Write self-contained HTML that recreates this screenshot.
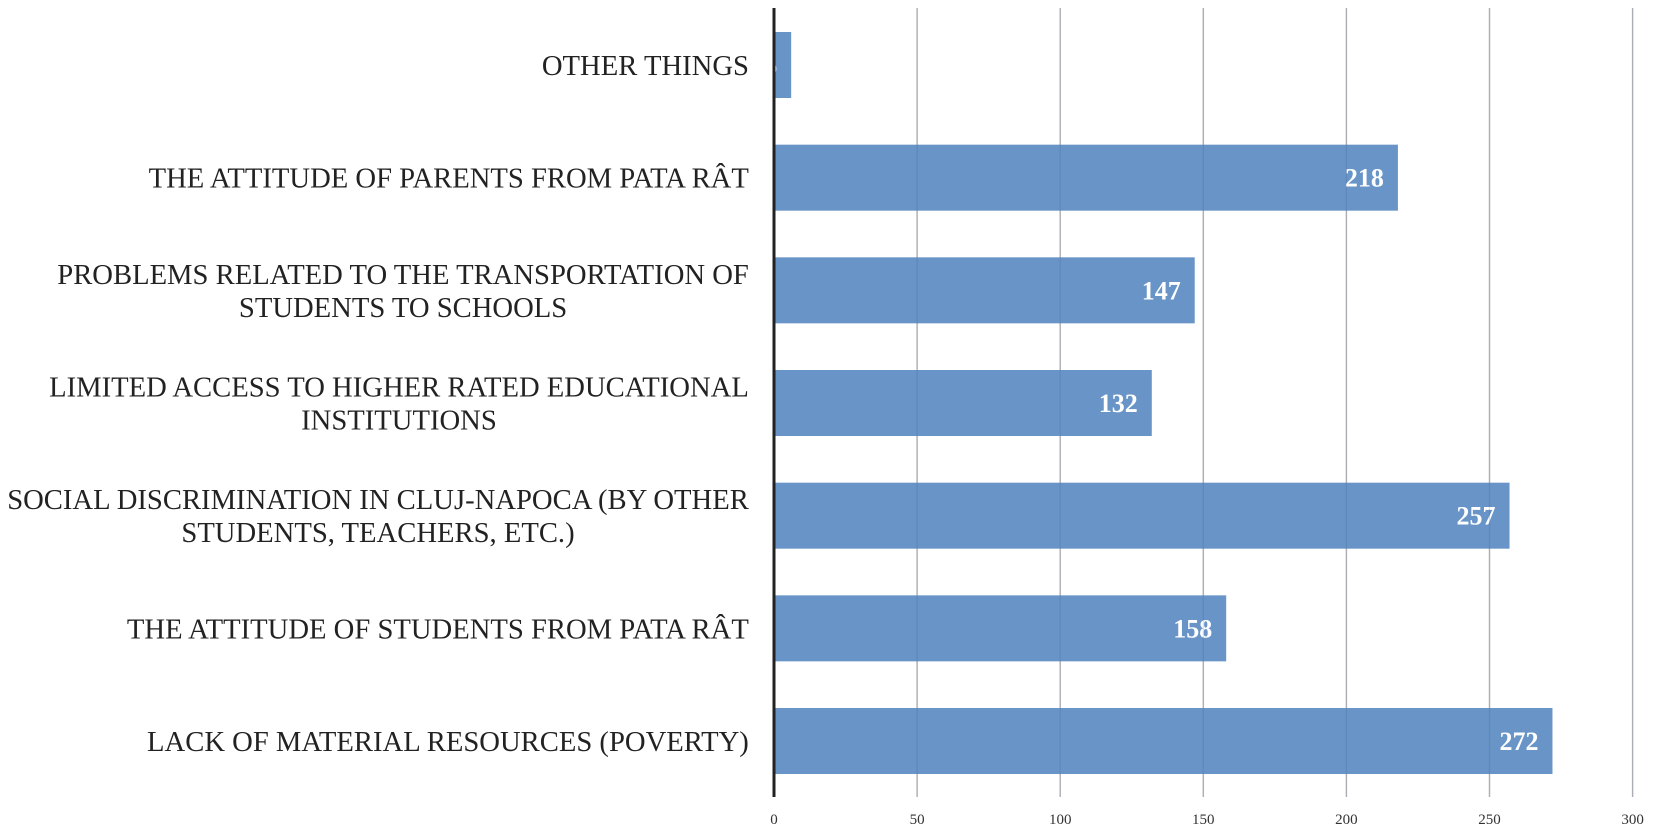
<!DOCTYPE html>
<html><head><meta charset="utf-8"><style>
html,body{margin:0;padding:0;background:#fff;}
svg{display:block;font-family:"Liberation Serif",serif;}
</style></head><body>
<svg id="chart" width="1654" height="834" viewBox="0 0 1654 834">
<g id="grid"></g>
<g id="bars"></g>
<g id="overgrid"></g>
<g id="cats"></g>
<g id="ticks"></g>
<line x1="774" y1="8" x2="774" y2="797" stroke="#222" stroke-width="3"/>
</svg>
<script>
const categories = [
 ["OTHER THINGS"],
 ["THE ATTITUDE OF PARENTS FROM PATA RÂT"],
 ["PROBLEMS RELATED TO THE TRANSPORTATION OF","STUDENTS TO SCHOOLS"],
 ["LIMITED ACCESS TO HIGHER RATED EDUCATIONAL","INSTITUTIONS"],
 ["SOCIAL DISCRIMINATION IN CLUJ-NAPOCA (BY OTHER","STUDENTS, TEACHERS, ETC.)"],
 ["THE ATTITUDE OF STUDENTS FROM PATA RÂT"],
 ["LACK OF MATERIAL RESOURCES (POVERTY)"]
];
const values = [6, 218, 147, 132, 257, 158, 272];
const tickValues = [0, 50, 100, 150, 200, 250, 300];
const tickLabels = ["0","50","100","150","200","250","300"];

const NS = "http://www.w3.org/2000/svg";
const x0 = 774, pxPerUnit = 2.862;
const xScale = v => x0 + v * pxPerUnit;
const yCenter = i => 65 + i * 112.67;
const barH = 66;

function mk(tag, attrs, parent){ const e=document.createElementNS(NS,tag); for(const k in attrs) e.setAttribute(k,attrs[k]); parent.appendChild(e); return e; }

const grid=document.getElementById('grid'), over=document.getElementById('overgrid'), ticks=document.getElementById('ticks');
tickValues.forEach((t,i)=>{
  if(t===0) return;
  const g=mk('line',{x1:xScale(t),x2:xScale(t),y1:8,y2:797,stroke:'#c4c4c4','stroke-width':1.5},grid);
  
  
  const o=mk('line',{x1:xScale(t),x2:xScale(t),y1:8,y2:797,stroke:'rgba(60,80,120,0.18)','stroke-width':1.2},over);
  
  
});
tickValues.forEach((t,i)=>{
  const tx=mk('text',{x:xScale(t),y:824,'text-anchor':'middle','font-size':15,fill:'#333'},ticks);
  tx.textContent=tickLabels[i];
  
  
});

const bars=document.getElementById('bars');
const defs=mk('defs',{},bars);
values.forEach((v,i)=>{
  const y=yCenter(i)-barH/2, w=xScale(v)-x0;
  const cp=mk('clipPath',{id:'c'+i},defs);
  mk('rect',{x:x0,y:y,width:w,height:barH},cp);
  const r=mk('rect',{x:x0,y:y,width:w,height:barH,fill:'#6894c7'},bars);
  
  
  const t=mk('text',{x:xScale(v)-14,y:yCenter(i)+9,'text-anchor':'end','font-size':26,'font-weight':'bold',fill:'#fff','clip-path':'url(#c'+i+')'},bars);
  t.textContent=v;
  
  
});

const cats=document.getElementById('cats');
const groups=[];
let maxW=0;
categories.forEach((lines,i)=>{
  const g=mk('g',{},cats);
  
  
  const n=lines.length;
  const texts=lines.map((ln,j)=>{
    const t=mk('text',{x:0,y:yCenter(i)+10+(j-(n-1)/2)*33,'text-anchor':'middle','font-size':28,fill:'#222'},g);
    t.textContent=ln; return t;
  });
  let w=Math.max(...texts.map(t=>t.getComputedTextLength()));
  maxW=Math.max(maxW,w);
  groups.push([g,w]);
});
const sx=742/maxW, right=749;
groups.forEach(([g,w])=>{
  const cx=right-w*sx/2;
  g.setAttribute('transform','translate('+cx+',0) scale('+sx+',1)');
});
</script>
</body></html>
